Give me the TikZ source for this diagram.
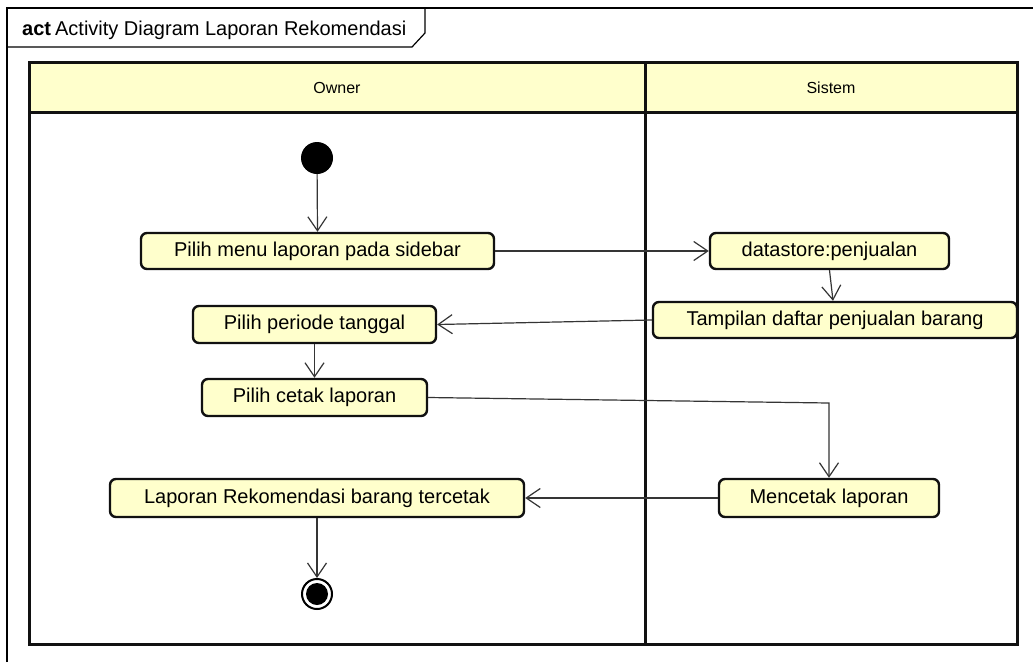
\documentclass[tikz,border=0pt]{standalone}
\usepackage{fontspec}
\setmainfont{Liberation Sans}
\usetikzlibrary{arrows.meta}

\definecolor{laneyellow}{HTML}{FFFFCC}
\definecolor{actyellow}{HTML}{FFFFCC}
\definecolor{inkline}{HTML}{111111}

\tikzset{
  action/.style={draw=inkline, line width=2.4pt, fill=actyellow, rounded corners=6pt,
    inner sep=0pt, font=\fontsize{20}{24}\selectfont},
  flow/.style={draw=inkline!85!white, line width=1.2pt,
    -{Straight Barb[length=14pt,width=19pt,line width=1.2pt]}},
  lane/.style={draw=inkline, line width=3pt},
  lanelabel/.style={font=\fontsize{16}{19}\selectfont, inner sep=0pt},
}

\begin{document}
\begin{tikzpicture}[x=1pt,y=-1pt]
\useasboundingbox (0,0) rectangle (1033,662);
\fill[white] (0,0) rectangle (1033,662);

% diagram frame and name tab
\draw[line width=1.5pt] (7,662) -- (7,8) -- (1033,8);
\draw[line width=1.2pt] (7,47) -- (412,47) -- (425,33) -- (425,8);
\node[anchor=west, inner sep=0pt, font=\fontsize{20}{24}\selectfont] (title) at (22,30)
  {\textbf{act}\hspace{4pt}Activity Diagram Laporan Rekomendasi};

% swimlanes
\fill[laneyellow] (29,62) rectangle (1017,112);
\draw[lane] (29,62) rectangle (1017,644);
\draw[lane] (29,112) -- (1017,112);
\draw[lane] (645,62) -- (645,644);
\node[lanelabel] (owner) at (337,88) {Owner};
\node[lanelabel] (sistem) at (831,88) {Sistem};

% initial and final nodes
\node[circle, fill=black, minimum size=32pt, inner sep=0pt] (start) at (317,158) {};
\node[circle, draw=black, line width=2pt, fill=white, minimum size=30pt, inner sep=0pt] (finish) at (317,594) {};
\fill[black] (finish.center) circle (11pt);

% actions
\node[action, minimum width=353pt, minimum height=36pt] (menu) at (317.5,251) {Pilih menu laporan pada sidebar};
\node[action, minimum width=243pt, minimum height=37pt] (periode) at (314.5,324.5) {Pilih periode tanggal};
\node[action, minimum width=239pt, minimum height=36pt] (data) at (829.5,251) {datastore:penjualan};
\node[action, minimum width=364pt, minimum height=36pt] (tampil) at (835,320) {Tampilan daftar penjualan barang};
\node[action, minimum width=225pt, minimum height=37pt] (cetak) at (314.5,397.5) {Pilih cetak laporan};
\node[action, minimum width=414pt, minimum height=38pt] (laporan) at (317,498) {Laporan Rekomendasi barang tercetak};
\node[action, minimum width=220pt, minimum height=38pt] (mencetak) at (829,498) {Mencetak laporan};

% control flows
\coordinate (bend) at (829,403);
\draw[flow] (start) -- (menu.north);
\draw[flow] (menu.east) -- (data.west);
\draw[flow] (data.south) -- ([xshift=-2pt]tampil.north);
\draw[flow] (tampil.west) -- (periode.east);
\draw[flow] (periode.south) -- (cetak.north);
\draw[flow] (cetak.east) -- (bend) -- (mencetak.north);
\draw[flow] (mencetak.west) -- (laporan.east);
\draw[flow] (laporan.south) -- (finish.north);
\end{tikzpicture}
\end{document}
